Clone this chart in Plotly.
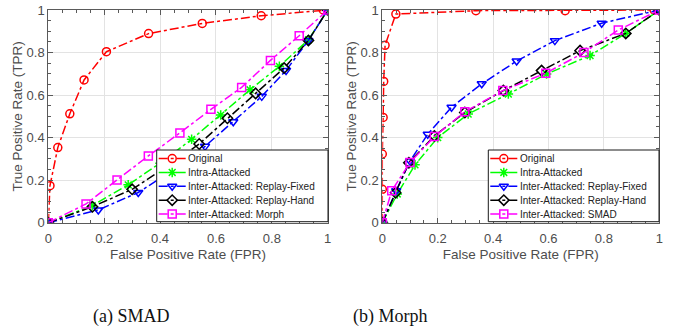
import plotly.graph_objects as go

# ---- Data: (a) SMAD ----
a_orig_x = [0, 0.006, 0.034, 0.077, 0.128, 0.208, 0.359, 0.551, 0.762, 0.984, 1.0]
a_orig_y = [0, 0.174, 0.353, 0.512, 0.671, 0.804, 0.889, 0.937, 0.973, 1.0, 1.0]
a_intra_x = [0, 0.157, 0.286, 0.40, 0.513, 0.617, 0.722, 0.827, 0.931, 1.0]
a_intra_y = [0, 0.08, 0.178, 0.28, 0.392, 0.506, 0.625, 0.735, 0.860, 1.0]
a_fixed_x = [0, 0.179, 0.322, 0.45, 0.561, 0.662, 0.764, 0.851, 0.931, 1.0]
a_fixed_y = [0, 0.060, 0.142, 0.25, 0.359, 0.475, 0.594, 0.716, 0.857, 1.0]
a_hand_x = [0, 0.158, 0.300, 0.42, 0.540, 0.641, 0.742, 0.844, 0.931, 1.0]
a_hand_y = [0, 0.075, 0.157, 0.26, 0.370, 0.491, 0.608, 0.727, 0.857, 1.0]
a_morph_x = [0, 0.135, 0.246, 0.358, 0.471, 0.582, 0.692, 0.795, 0.898, 1.0]
a_morph_y = [0, 0.088, 0.201, 0.314, 0.422, 0.533, 0.636, 0.763, 0.879, 1.0]

# ---- Data: (b) Morph ----
b_orig_x = [0, 0, 0, 0.003, 0.005, 0.010, 0.049, 0.338, 0.660, 0.981, 1.0]
b_orig_y = [0, 0.157, 0.323, 0.495, 0.664, 0.834, 0.981, 0.997, 0.997, 1.0, 1.0]
b_intra_x = [0, 0.054, 0.118, 0.200, 0.310, 0.455, 0.593, 0.750, 0.879, 1.0]
b_intra_y = [0, 0.135, 0.272, 0.400, 0.511, 0.605, 0.699, 0.786, 0.890, 1.0]
b_fixed_x = [0, 0.05, 0.10, 0.164, 0.250, 0.359, 0.485, 0.623, 0.792, 1.0]
b_fixed_y = [0, 0.15, 0.29, 0.416, 0.543, 0.653, 0.760, 0.856, 0.938, 1.0]
b_hand_x = [0, 0.048, 0.096, 0.188, 0.298, 0.437, 0.575, 0.714, 0.879, 1.0]
b_hand_y = [0, 0.141, 0.282, 0.408, 0.518, 0.621, 0.715, 0.809, 0.890, 1.0]
b_smad_x = [0, 0.034, 0.100, 0.188, 0.298, 0.435, 0.590, 0.728, 0.852, 1.0]
b_smad_y = [0, 0.150, 0.283, 0.405, 0.522, 0.621, 0.703, 0.800, 0.906, 1.0]

names_a = ["Original", "Intra-Attacked", "Inter-Attacked: Replay-Fixed",
           "Inter-Attacked: Replay-Hand", "Inter-Attacked: Morph"]
names_b = ["Original", "Intra-Attacked", "Inter-Attacked: Replay-Fixed",
           "Inter-Attacked: Replay-Hand", "Inter-Attacked: SMAD"]
colors = ["#ff0000", "#00ff00", "#0000ff", "#000000", "#ff00ff"]
symbols = ["circle-open", "asterisk-open", "triangle-down-open", "diamond-open", "square-open"]

tick_vals = [0, 0.2, 0.4, 0.6, 0.8, 1]
tick_text = ["0", "0.2", "0.4", "0.6", "0.8", "1"]
captions = ["(a) SMAD", "(b) Morph"]
x_title = "False Positive Rate (FPR)"
y_title = "True Positive Rate (TPR)"

FONT = "Liberation Sans, Arial, sans-serif"
SERIF = "Liberation Serif, Times New Roman, serif"
GRAY = "#4d4d4d"
AXC = "#5a5a5a"

W, H = 673, 334

fig = go.Figure()

def style(color, symbol):
    return dict(line=dict(color=color, width=1.5, dash="dashdot"),
                marker=dict(symbol=symbol, size=8, color=color,
                            line=dict(color=color, width=1.5)))

series_a = [(a_orig_x, a_orig_y), (a_intra_x, a_intra_y), (a_fixed_x, a_fixed_y),
            (a_hand_x, a_hand_y), (a_morph_x, a_morph_y)]
series_b = [(b_orig_x, b_orig_y), (b_intra_x, b_intra_y), (b_fixed_x, b_fixed_y),
            (b_hand_x, b_hand_y), (b_smad_x, b_smad_y)]

for (x, y), n, c, s in zip(series_a, names_a, colors, symbols):
    fig.add_trace(go.Scatter(x=x, y=y, name=n, mode="lines+markers",
                             xaxis="x", yaxis="y", showlegend=False, **style(c, s)))
for (x, y), n, c, s in zip(series_b, names_b, colors, symbols):
    fig.add_trace(go.Scatter(x=x, y=y, name=n, mode="lines+markers",
                             xaxis="x2", yaxis="y2", showlegend=False, **style(c, s)))

# ---- Custom compact legends (drawn on a full-page overlay axis in pixel units) ----
LEG_TOP, LEG_BOT = 150.0, 221.7
ROW0, ROW_STEP = 158.6, 13.85

def draw_legend(left, right, names):
    fig.add_trace(go.Scatter(
        x=[left, right, right, left, left], y=[LEG_TOP, LEG_TOP, LEG_BOT, LEG_BOT, LEG_TOP],
        mode="lines", fill="toself", fillcolor="white",
        line=dict(color="#1a1a1a", width=1), xaxis="x3", yaxis="y3",
        showlegend=False, hoverinfo="skip"))
    for i, (n, c, s) in enumerate(zip(names, colors, symbols)):
        yc = ROW0 + i * ROW_STEP
        fig.add_trace(go.Scatter(
            x=[left + 2, left + 29], y=[yc, yc], mode="lines",
            line=dict(color=c, width=1.5, dash="dashdot"),
            xaxis="x3", yaxis="y3", showlegend=False, hoverinfo="skip"))
        fig.add_trace(go.Scatter(
            x=[left + 15.5], y=[yc], mode="markers",
            marker=dict(symbol=s, size=8, color=c, line=dict(color=c, width=1.5)),
            xaxis="x3", yaxis="y3", showlegend=False, hoverinfo="skip"))
        fig.add_annotation(text=n, x=left + 29.5, y=yc, xref="x3", yref="y3",
                           xanchor="left", yanchor="middle", showarrow=False,
                           font=dict(family=FONT, size=10, color="#222222"))

draw_legend(156.7, 328.0, names_a)
draw_legend(488.3, 659.0, names_b)

ydom = [(H - 222.7) / H, (H - 10) / H]
xdom1 = [48.3 / W, 327.7 / W]
xdom2 = [382.3 / W, 659.3 / W]

def axis(domain, title, anchor, is_x):
    d = dict(
        domain=domain, range=[0, 1], anchor=anchor, automargin=False,
        tickvals=tick_vals, ticktext=tick_text,
        ticks="inside", ticklen=5, tickcolor=AXC,
        showline=True, linecolor=AXC, linewidth=1, mirror="ticks",
        showgrid=True, gridcolor="#e3e3e3", gridwidth=1, zeroline=False,
        minor=dict(dtick=0.05, ticks="inside", ticklen=3, tickcolor=AXC, showgrid=False),
        tickfont=dict(family=FONT, size=13, color=GRAY),
        ticklabeloverflow="allow",
        title=dict(text=title, font=dict(family=FONT, size=13.5, color=GRAY),
                   standoff=4 if is_x else 0),
        fixedrange=True)
    if is_x:
        d["ticklabelstandoff"] = 4
    return d

fig.update_layout(
    width=W, height=H, margin=dict(l=0, r=0, t=0, b=0, autoexpand=False),
    paper_bgcolor="white", plot_bgcolor="rgba(0,0,0,0)",
    xaxis=axis(xdom1, x_title, "y", True),
    yaxis=axis(ydom, y_title, "x", False),
    xaxis2=axis(xdom2, x_title, "y2", True),
    yaxis2=axis(ydom, y_title, "x2", False),
    xaxis3=dict(domain=[0, 1], range=[0, W], anchor="y3", visible=False, fixedrange=True),
    yaxis3=dict(domain=[0, 1], range=[H, 0], anchor="x3", visible=False, fixedrange=True),
    showlegend=False,
    hovermode=False,
)

for cap, cx in zip(captions, [131, 390]):
    fig.add_annotation(text=cap, x=cx / W, y=(H - 316) / H, xref="paper", yref="paper",
                       xanchor="center", yanchor="middle", showarrow=False,
                       font=dict(family=SERIF, size=18, color="#111111"))

# remove the browser's default 8px body margin so the figure fills the window
fig.write_html("out.html", config={"displayModeBar": False, "staticPlot": True},
               post_script="document.body.style.margin='0';")
